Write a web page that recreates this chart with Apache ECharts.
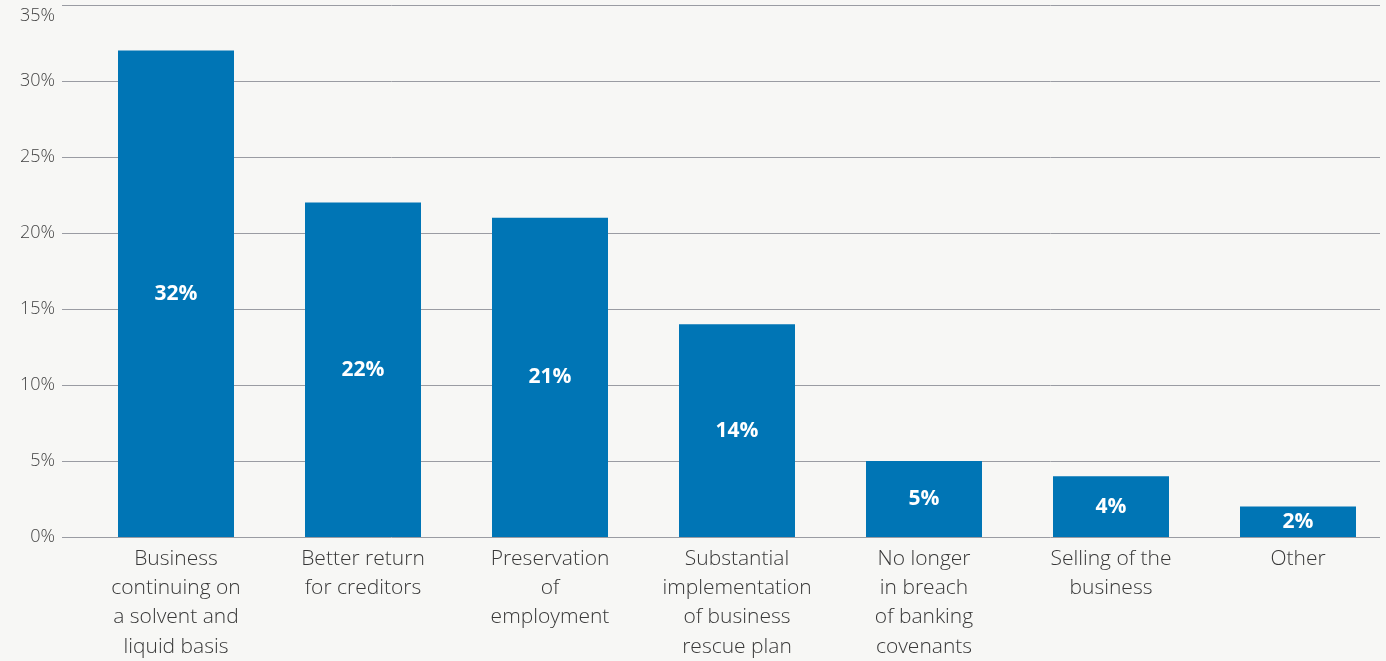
<!DOCTYPE html>
<html>
<head>
<meta charset="utf-8">
<script src="https://cdn.jsdelivr.net/npm/echarts@6/dist/echarts.min.js"></script>
<style>
  html, body { margin: 0; padding: 0; background: #f7f7f5; }
  #chart { width: 1386px; height: 661px; }
</style>
</head>
<body>
<div id="chart"></div>
<script>
// Reasons for business rescue outcome (share of responses, %)
const categories = [
  'Business\ncontinuing on\na solvent and\nliquid basis',
  'Better return\nfor creditors',
  'Preservation\nof\nemployment',
  'Substantial\nimplementation\nof business\nrescue plan',
  'No longer\nin breach\nof banking\ncovenants',
  'Selling of the\nbusiness',
  'Other'
];
const values = [32, 22, 21, 14, 5, 4, 2];
const yTicks = { min: 0, max: 35, interval: 5 };

const FONT = '"Open Sans", "Noto Sans", sans-serif';
const chart = echarts.init(document.getElementById('chart'), null, { renderer: 'canvas' });

const plotTop = 5;
const plotBottom = 124;

chart.setOption({
  backgroundColor: '#f7f7f5',
  animation: false,
  grid: [
    // value scale + horizontal gridlines
    { left: 62, right: 6, top: plotTop, bottom: plotBottom, outerBoundsMode: 'none', containLabel: false },
    // bars and category labels (last band runs slightly past the right edge)
    { left: 82.5, width: 1309, top: plotTop, bottom: plotBottom, outerBoundsMode: 'none', containLabel: false }
  ],
  xAxis: [
    { gridIndex: 0, type: 'category', data: categories, show: false },
    {
      gridIndex: 1,
      type: 'category',
      data: categories,
      axisLine: { show: false },
      axisTick: { show: false },
      axisLabel: {
        interval: 0,
        margin: 7,
        color: '#383838',
        fontFamily: FONT,
        fontWeight: 300,
        fontSize: 21,
        lineHeight: 29.4,
        verticalAlign: 'top'
      }
    }
  ],
  yAxis: [
    {
      gridIndex: 0,
      type: 'value',
      min: yTicks.min,
      max: yTicks.max,
      interval: yTicks.interval,
      axisLine: { show: false },
      axisTick: { show: false },
      axisLabel: {
        margin: 7,
        color: '#444444',
        fontFamily: FONT,
        fontWeight: 300,
        fontSize: 18,
        // keep the top label inside the canvas
        formatter: function (v) {
          return v === yTicks.max ? '{top|' + v + '%}' : v + '%';
        },
        rich: {
          top: {
            color: '#444444',
            fontFamily: FONT,
            fontWeight: 300,
            fontSize: 18,
            padding: [22, 0, 0, 0]
          }
        }
      },
      splitLine: { lineStyle: { color: '#9a9ca3', width: 1 } }
    },
    {
      gridIndex: 1,
      type: 'value',
      min: yTicks.min,
      max: yTicks.max,
      interval: yTicks.interval,
      show: false,
      splitLine: { show: false }
    }
  ],
  series: [
    {
      type: 'bar',
      xAxisIndex: 1,
      yAxisIndex: 1,
      data: values,
      barWidth: 116,
      itemStyle: { color: '#0075b5' },
      label: {
        show: true,
        position: 'inside',
        color: '#ffffff',
        fontFamily: FONT,
        fontWeight: 'bold',
        fontSize: 21,
        formatter: '{c}%'
      }
    }
  ]
});
</script>
</body>
</html>
